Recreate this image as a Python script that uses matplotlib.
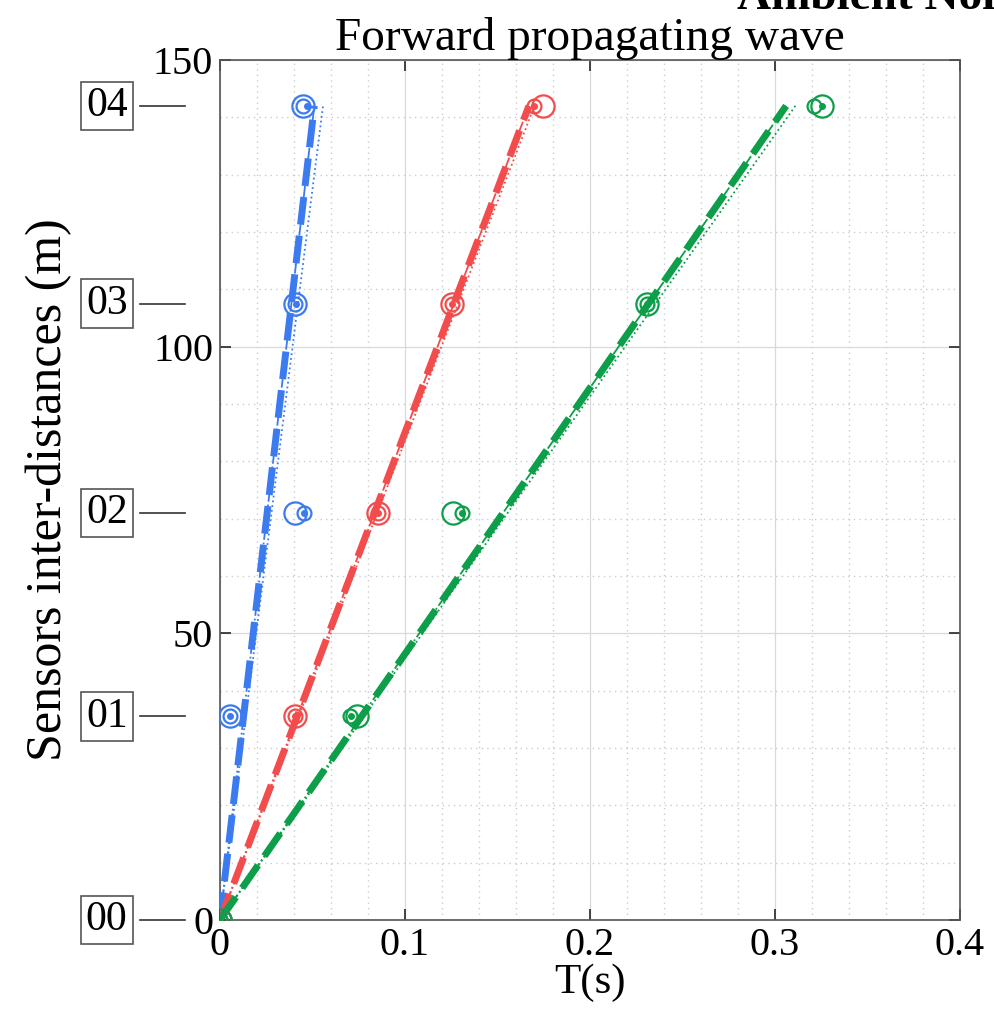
"""
Forward propagating wave: travel time picks vs sensor inter-distances.
"""

import matplotlib
matplotlib.use("Agg")
import matplotlib.pyplot as plt
from matplotlib.lines import Line2D
from matplotlib.ticker import MultipleLocator
import matplotlib.transforms as mtransforms

plt.rcParams.update({
    "font.family": "Liberation Serif",
    "font.size": 29,
})

# sensor names and inter-distances (m)
SENSORS = ["00", "01", "02", "03", "04"]
DIST = [0, 35.5, 71, 107.5, 142]

# picked travel times (s): big circle, small circle, dot
BLUE_BIG = [0, 0.0054, 0.0405, 0.0405, 0.0450]
BLUE_SMALL = [0, 0.0054, 0.0455, 0.0405, 0.0450]
BLUE_DOT = [0, 0.0054, 0.0455, 0.0410, 0.0470]

RED_BIG = [0, 0.0405, 0.0854, 0.1254, 0.1746]
RED_SMALL = [0, 0.0405, 0.0854, 0.1254, 0.1700]
RED_DOT = [0, 0.0405, 0.0854, 0.1254, 0.1700]

GREEN_BIG = [0, 0.0740, 0.1260, 0.2308, 0.3253]
GREEN_SMALL = [0, 0.0703, 0.1310, 0.2308, 0.3210]
GREEN_DOT = [0, 0.0710, 0.1310, 0.2308, 0.3253]

# fitted lines, (T, d) end points
FIT_D = [0, 142]
BLUE_FIT = [0, 0.0510]
BLUE_FIT2 = [0, 0.0557]
RED_FIT = [0, 0.1670]
RED_FIT2 = [0, 0.1700]
GREEN_FIT = [0, 0.3060]
GREEN_FIT2 = [0, 0.3110]

BLUE = "#3b7bef"
RED = "#f24c4c"
GREEN = "#0c9e48"

fig = plt.figure(figsize=(9.94, 10.24), dpi=100)
ax = fig.add_axes([0.2213, 0.1016, 0.7445, 0.8398])

series = [
    (BLUE, BLUE_FIT, BLUE_FIT2, BLUE_BIG, BLUE_SMALL, BLUE_DOT),
    (RED, RED_FIT, RED_FIT2, RED_BIG, RED_SMALL, RED_DOT),
    (GREEN, GREEN_FIT, GREEN_FIT2, GREEN_BIG, GREEN_SMALL, GREEN_DOT),
]

for color, fit, fit2, big, small, dot in series:
    ax.plot(fit, FIT_D, color=color, lw=5, ls=(0, (4, 1.6)), zorder=3)
    ax.plot(fit2, FIT_D, color=color, lw=1.3, ls=":", zorder=3)
    ax.plot(fit, FIT_D, color=color, lw=1.3, ls="-.", zorder=3)
    ax.plot(big, DIST, ls="none", marker="o", ms=16, mfc="none",
            mec=color, mew=1.6, zorder=4)
    ax.plot(small, DIST, ls="none", marker="o", ms=10, mfc="none",
            mec=color, mew=1.6, zorder=4)
    ax.plot(dot, DIST, ls="none", marker="o", ms=4, mfc=color,
            mec=color, zorder=4)

ax.set_xlim(0, 0.4)
ax.set_ylim(0, 150)
ax.set_xticks([0, 0.1, 0.2, 0.3, 0.4])
ax.set_xticklabels(["0", "0.1", "0.2", "0.3", "0.4"])
ax.set_yticks([0, 50, 100, 150])
ax.xaxis.set_minor_locator(MultipleLocator(0.02))
ax.yaxis.set_minor_locator(MultipleLocator(10))
ax.tick_params(which="both", direction="in", top=True, right=True,
               labelsize=29, pad=5)
ax.tick_params(which="major", length=8, width=1.2, color="#262626")
ax.tick_params(which="minor", length=0)
ax.grid(which="major", color="#d9d9d9", lw=0.9)
ax.grid(which="minor", color="#cccccc", lw=1.0, ls=(0, (1, 3)))
ax.set_axisbelow(True)
for sp in ax.spines.values():
    sp.set_color("#555555")
    sp.set_linewidth(1.2)

ax.set_xlabel("T(s)", fontsize=31, labelpad=0)
ax.set_ylabel("Sensors inter-distances (m)", fontsize=36, labelpad=58)
ax.set_title("Forward propagating wave", fontsize=34, pad=2)

# sensor labels at the left
trans = mtransforms.blended_transform_factory(ax.transAxes, ax.transData)
for name, d in zip(SENSORS, DIST):
    ax.text(-0.153, d, name, transform=trans, ha="center", va="center",
            fontsize=30, clip_on=False,
            bbox=dict(boxstyle="square,pad=0.12", fc="white", ec="#555555", lw=1.2))
    ax.add_line(Line2D([-0.108, -0.047], [d, d], transform=trans,
                       color="#333333", lw=1.2, clip_on=False))

fig.text(0.741, 0.991, "Ambient Noise", fontsize=34, fontweight="bold",
         ha="left", va="baseline")

fig.savefig("out.png", dpi=100)
